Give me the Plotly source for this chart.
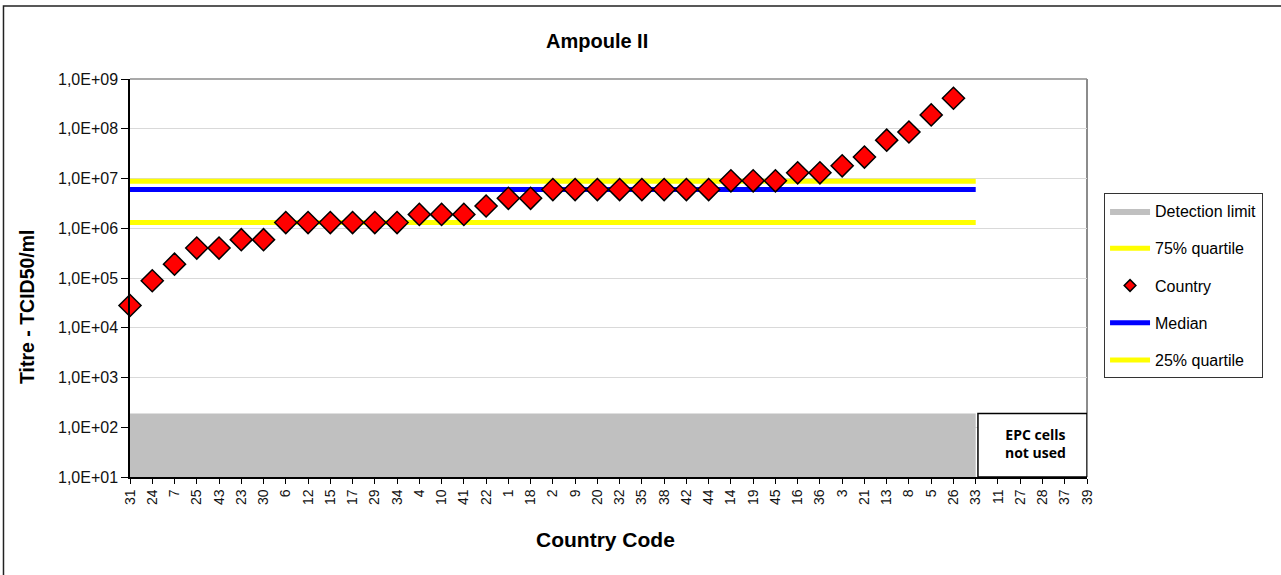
import plotly.graph_objects as go

# Country codes in plotted order (sorted by titre), last six had no result
codes = ["31", "24", "7", "25", "43", "23", "30", "6", "12", "15", "17", "29",
         "34", "4", "10", "41", "22", "1", "18", "2", "9", "20", "32", "35",
         "38", "42", "44", "14", "19", "45", "16", "36", "3", "21", "13", "8",
         "5", "26", "33", "11", "27", "28", "37", "39"]

# Titre (TCID50/ml) reported by each country
titres = [2.8e4, 8.8e4, 1.9e5, 4.0e5, 4.0e5, 5.9e5, 5.9e5,
          1.3e6, 1.3e6, 1.3e6, 1.3e6, 1.3e6, 1.3e6,
          1.9e6, 1.9e6, 1.9e6, 2.8e6, 4.0e6, 4.0e6,
          6.0e6, 6.0e6, 6.0e6, 6.0e6, 6.0e6, 6.0e6, 6.0e6, 6.0e6,
          9.0e6, 9.0e6, 9.0e6, 1.3e7, 1.3e7, 1.8e7, 2.7e7, 5.9e7, 8.6e7,
          1.9e8, 4.1e8,
          None, None, None, None, None, None]

# Summary statistics and detection limit
q75 = 8.8e6
median = 6.0e6
q25 = 1.3e6
detection_limit = 1.9e2
axis_floor = 1.0e1

# Reference lines run across the reporting countries (through code "33")
line_codes = codes[:39]

y_tick_vals = [1e1, 1e2, 1e3, 1e4, 1e5, 1e6, 1e7, 1e8, 1e9]
y_tick_text = ["1,0E+01", "1,0E+02", "1,0E+03", "1,0E+04", "1,0E+05",
               "1,0E+06", "1,0E+07", "1,0E+08", "1,0E+09"]

FONT = "Arial, Liberation Sans, sans-serif"

fig = go.Figure()

# Detection limit band (filled from the axis floor up to the limit)
fig.add_trace(go.Scatter(
    x=line_codes, y=[axis_floor] * len(line_codes), mode="lines",
    line=dict(width=0, color="#c0c0c0"), showlegend=False, hoverinfo="skip"))
fig.add_trace(go.Scatter(
    x=line_codes, y=[detection_limit] * len(line_codes), mode="lines",
    fill="tonexty", fillcolor="#c0c0c0", line=dict(width=0, color="#c0c0c0"),
    name="Detection limit", legendgroup="g1", legendrank=1))

fig.add_trace(go.Scatter(
    x=line_codes, y=[q75] * len(line_codes), mode="lines",
    line=dict(color="#ffff00", width=5), name="75% quartile",
    legendgroup="g2", legendrank=2))

fig.add_trace(go.Scatter(
    x=line_codes, y=[median] * len(line_codes), mode="lines",
    line=dict(color="#0000ff", width=5), name="Median",
    legendgroup="g4", legendrank=4))

fig.add_trace(go.Scatter(
    x=line_codes, y=[q25] * len(line_codes), mode="lines",
    line=dict(color="#ffff00", width=5), name="25% quartile",
    legendgroup="g5", legendrank=5))

# Country results
fig.add_trace(go.Scatter(
    x=codes, y=titres, mode="markers", cliponaxis=False,
    marker=dict(symbol="diamond", size=17, color="#ff0000",
                line=dict(color="#000000", width=1.5)),
    name="Country", showlegend=False))
# Small legend swatch for the country markers
fig.add_trace(go.Scatter(
    x=[None], y=[None], mode="markers",
    marker=dict(symbol="diamond", size=9, color="#ff0000",
                line=dict(color="#000000", width=1.5)),
    name="Country", legendgroup="g3", legendrank=3))

shapes = [
    # plot area border (top and right)
    dict(type="line", xref="paper", yref="paper", x0=0, x1=1, y0=1, y1=1,
         line=dict(color="#8c8c8c", width=1.5), layer="below"),
    dict(type="line", xref="paper", yref="paper", x0=1, x1=1, y0=0, y1=1,
         line=dict(color="#8c8c8c", width=2), layer="below"),
    # box for countries that did not use EPC cells
    dict(type="rect", xref="x", yref="y", x0=38.1, x1=43,
         y0=axis_floor, y1=detection_limit,
         fillcolor="#ffffff", line=dict(color="#000000", width=1.5)),
    # outer chart border
    dict(type="rect", xref="paper", yref="paper",
         x0=-0.1322, x1=1.22, y0=-0.3, y1=1.1834,
         line=dict(color="#222222", width=1.5)),
]

annotations = [
    dict(text="<b>Ampoule II</b>", xref="paper", yref="paper", x=0.488, y=1.0955,
         xanchor="center", yanchor="middle", showarrow=False,
         font=dict(family=FONT, size=20, color="#000000")),
    dict(text="<b>Country Code</b>", xref="paper", yref="paper", x=0.497, y=-0.158,
         xanchor="center", yanchor="middle", showarrow=False,
         font=dict(family=FONT, size=21, color="#000000")),
    dict(text="<b>Titre - TCID50/ml</b>", xref="paper", yref="paper", x=-0.1076,
         y=0.427, xanchor="center", yanchor="middle", textangle=-90,
         showarrow=False, font=dict(family=FONT, size=19.5, color="#000000")),
    dict(text="<b>EPC cells<br>not used</b>", xref="paper", yref="paper",
         x=0.9467, y=0.083, xanchor="center", yanchor="middle", showarrow=False,
         font=dict(family="Open Sans, Liberation Sans, sans-serif", size=14,
                   color="#000000")),
]

fig.update_layout(
    width=1281, height=575,
    margin=dict(l=130, r=194, t=79, b=98),
    paper_bgcolor="#ffffff", plot_bgcolor="#ffffff",
    font=dict(family=FONT, color="#000000"),
    shapes=shapes, annotations=annotations,
    legend=dict(x=1.0178, xanchor="left", y=0.7136, yanchor="top",
                bordercolor="#333333", borderwidth=1, bgcolor="#ffffff",
                font=dict(family=FONT, size=16, color="#000000"),
                itemwidth=40, traceorder="grouped", tracegroupgap=13.5),
    xaxis=dict(type="category", categoryorder="array", categoryarray=codes,
               range=[0, len(codes) - 1], showgrid=False, showline=True,
               linecolor="#000000", linewidth=1.5, ticks="outside", ticklen=5,
               tickcolor="#000000", tickangle=-90,
               tickfont=dict(family=FONT, size=14, color="#111111"),
               zeroline=False),
    yaxis=dict(type="log", range=[1, 9], tickvals=y_tick_vals,
               ticktext=y_tick_text, showgrid=True, gridcolor="#d9d9d9",
               gridwidth=1, showline=True, linecolor="#000000", linewidth=1.5,
               ticks="outside", ticklen=7, tickcolor="#000000",
               tickfont=dict(family=FONT, size=16, color="#111111"),
               zeroline=False),
)

fig.write_html("out.html")
